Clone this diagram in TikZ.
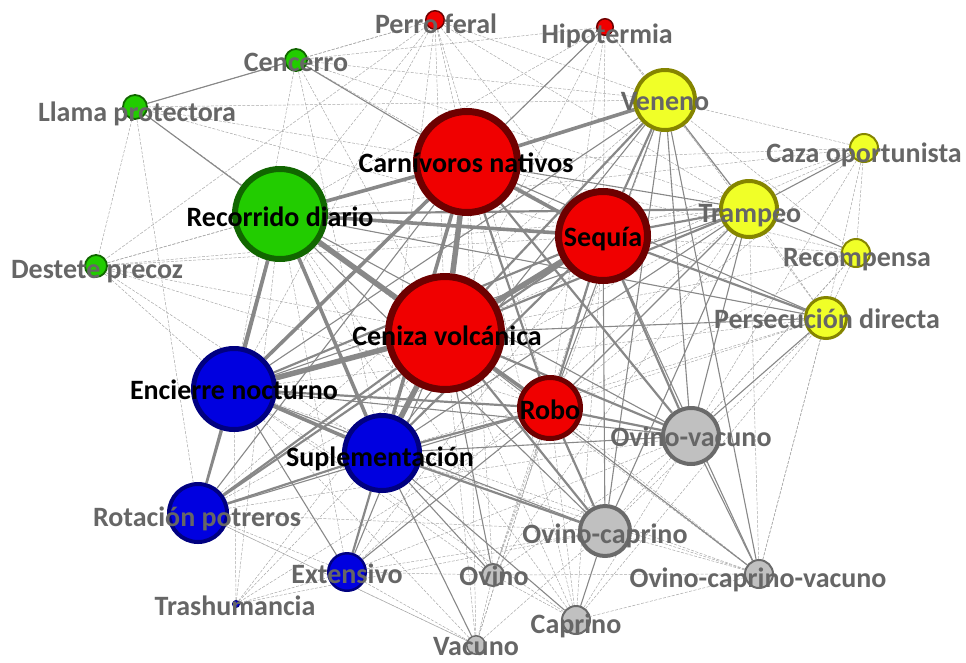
\documentclass[tikz,border=0pt]{standalone}
\usepackage{fontspec}
\setmainfont{Carlito}
\pgfdeclarelayer{bg}
\pgfsetlayers{bg,main}
\definecolor{rfill}{HTML}{F00000}
\definecolor{rline}{HTML}{6E0000}
\definecolor{gfill}{HTML}{22CC00}
\definecolor{gline}{HTML}{116600}
\definecolor{bfill}{HTML}{0000E0}
\definecolor{bline}{HTML}{000080}
\definecolor{yfill}{HTML}{F0FF28}
\definecolor{yline}{HTML}{858500}
\definecolor{kfill}{HTML}{C0C0C0}
\definecolor{kline}{HTML}{6A6A6A}
\definecolor{txtgray}{HTML}{666666}
\definecolor{edgec}{HTML}{888888}
\definecolor{faintc}{HTML}{A8A8A8}
\tikzset{
  vtx/.style={circle, inner sep=0pt, draw},
  rv/.style={vtx, fill=rfill, draw=rline},
  gv/.style={vtx, fill=gfill, draw=gline},
  bv/.style={vtx, fill=bfill, draw=bline},
  yv/.style={vtx, fill=yfill, draw=yline},
  kv/.style={vtx, fill=kfill, draw=kline},
  lab/.style={anchor=base, inner sep=0pt, font=\bfseries\fontsize{28}{28}\selectfont, text=txtgray},
  labk/.style={lab, text=black},
  e1/.style={draw=faintc, line width=0.5pt, dash pattern=on 3pt off 1.5pt},
  e2/.style={draw=edgec, line width=1.1pt},
  e3/.style={draw=edgec, line width=2.2pt},
  e4/.style={draw=edgec, line width=3.6pt},
  e5/.style={draw=edgec, line width=5.5pt},
}
\begin{document}
\begin{tikzpicture}[x=1pt, y=-1pt]
\useasboundingbox (0,0) rectangle (966,662);
% nodes  (minimum size = 2r - line width)
\node[rv, line width=1.5pt, minimum size=18.5pt] (PF) at (435,20) {};
\node[rv, line width=1.5pt, minimum size=16.5pt] (HI) at (605,27) {};
\node[gv, line width=1.8pt, minimum size=22pt] (CE) at (296,60) {};
\node[gv, line width=1.8pt, minimum size=24pt] (LL) at (135,107) {};
\node[yv, line width=4pt, minimum size=60pt] (VE) at (665,100) {};
\node[yv, line width=2pt, minimum size=28pt] (CO) at (864,148) {};
\node[rv, line width=7pt, minimum size=101pt] (CN) at (467,162) {};
\node[gv, line width=6pt, minimum size=90pt] (RD) at (280,214) {};
\node[rv, line width=7pt, minimum size=89pt] (SQ) at (603,236) {};
\node[yv, line width=4pt, minimum size=56pt] (TR) at (749,209) {};
\node[yv, line width=2pt, minimum size=28pt] (RC) at (856,253) {};
\node[gv, line width=1.8pt, minimum size=22pt] (DP) at (96,266) {};
\node[yv, line width=3pt, minimum size=41pt] (PD) at (826,318) {};
\node[rv, line width=7pt, minimum size=113pt] (CV) at (445,333) {};
\node[bv, line width=5pt, minimum size=81pt] (EN) at (234,389) {};
\node[rv, line width=5pt, minimum size=61pt] (RO) at (550,408) {};
\node[kv, line width=4pt, minimum size=56pt] (OV) at (691,436) {};
\node[bv, line width=5pt, minimum size=75pt] (SU) at (382,453) {};
\node[bv, line width=4pt, minimum size=58pt] (RP) at (198,513) {};
\node[kv, line width=4pt, minimum size=50pt] (OC) at (605,531) {};
\node[bv, line width=2.5pt, minimum size=37.5pt] (EX) at (347,572) {};
\node[kv, line width=2pt, minimum size=22pt] (OVI) at (493,575) {};
\node[kv, line width=2pt, minimum size=28pt] (OCV) at (759,574) {};
\node[bv, line width=1pt, minimum size=7pt] (TS) at (236,604) {};
\node[kv, line width=2pt, minimum size=28pt] (CA) at (576,620) {};
\node[kv, line width=1.5pt, minimum size=18.5pt] (VA) at (476,645) {};
% edges
\begin{pgfonlayer}{bg}
\foreach \a/\b in {PF/CE,PF/LL,PF/DP,PF/RD,PF/SQ,PF/VE,PF/TR,PF/EN,PF/SU,PF/RO,PF/CV,PF/CN,
  HI/CE,HI/RD,HI/CV,HI/VE,HI/TR,HI/EN,HI/RO,HI/SQ,
  CE/LL,CE/VE,CE/TR,CE/SQ,CE/EN,CE/SU,CE/CV,
  LL/CN,LL/DP,LL/SQ,LL/VE,LL/RP,LL/CV,
  DP/RD,DP/CN,DP/CV,DP/EN,DP/SQ,DP/RO,DP/TR,DP/SU,
  CO/VE,CO/SQ,CO/CN,CO/CV,CO/PD,CO/RD,CO/RC,CO/OV,CO/RO,
  RC/SQ,RC/CV,RC/CN,RC/PD,RC/OV,RC/OC,RC/VE,RC/RO,
  PD/TR,PD/VE,PD/RO,PD/OCV,PD/EN,PD/SU,PD/OC,
  TS/EN,TS/CV,TS/SU,TS/RD,TS/EX,TS/RO,TS/OC,
  EX/RP,EX/CN,EX/RD,EX/VA,EX/OC,EX/OV,EX/OVI,EX/SQ,EX/TR,
  OVI/CN,OVI/SQ,OVI/RD,OVI/EN,OVI/RO,OVI/OV,OVI/TR,OVI/VE,OVI/CA,OVI/VA,
  CA/CV,CA/RO,CA/OV,CA/EN,CA/RD,CA/SQ,CA/PD,CA/CN,
  VA/CV,VA/RO,VA/EN,VA/SQ,VA/CN,VA/OC,VA/RP,
  OCV/OC,OCV/RO,OCV/SU,OCV/TR,OCV/PD,OCV/CA,OCV/EN,OCV/RD,OCV/OVI,
  RP/VE,RP/TR,RP/SQ,RP/OV,RP/OC,RP/VA}
  \draw[e1] (\a) -- (\b);
\foreach \a/\b in {VE/OCV,VE/OC,TR/OC,PD/CN,PD/CV,PD/RD,TR/RO,VE/RO,VE/SU,VE/EN,
  TR/EN,TR/SU,OV/SU,OV/EN,OV/RD,RD/OC,EX/CV,EX/RO,RP/CN,RP/RO,CE/CN,LL/RD,
  HI/CN,CO/TR,RC/TR,OCV/OV,OCV/SQ,OCV/CV,CA/OC,CA/SU,VA/SU,OVI/SU,OVI/CV,
  TR/VE,TR/OV,PD/OV,OC/EN,OC/SQ,OV/VE,CN/TR,EN/EX,LL/CE}
  \draw[e2] (\a) -- (\b);
\foreach \a/\b in {RD/RO,SQ/EN,SQ/SU,VE/CV,VE/SQ,TR/SQ,TR/CV,RD/TR,CN/OV,SQ/OV,CV/OV,
  RO/OV,EN/RO,SU/RO,RP/EN,RP/CV,RP/SU,EX/SU,OC/CV,OC/SU,OC/RO,PD/SQ,CN/RO,SQ/RO,
  RD/RP,RP/SQ}
  \draw[e3] (\a) -- (\b);
\foreach \a/\b in {CN/RD,RD/EN,CV/RO,CN/VE,CN/SQ,RD/SQ,EN/SU,CN/EN,RD/SU,CN/SU}
  \draw[e4] (\a) -- (\b);
\foreach \a/\b in {CN/CV,RD/CV,CV/EN,CV/SQ,CV/SU}
  \draw[e5] (\a) -- (\b);
\end{pgfonlayer}
% labels
\node[lab] (tPF) at (436,33) {Perro feral};
\node[lab] (tHI) at (607,43) {Hipotermia};
\node[lab] (tCE) at (296,71) {Cencerro};
\node[lab] (tLL) at (137,121) {Llama protectora};
\node[lab] (tVE) at (665,110) {Veneno};
\node[lab] (tCO) at (864,162) {Caza oportunista};
\node[labk] (tCN) at (466,172) {Carnívoros nativos};
\node[labk] (tRD) at (280,226) {Recorrido diario};
\node[labk] (tSQ) at (603,246) {Sequía};
\node[lab] (tTR) at (750,222) {Trampeo};
\node[lab] (tRC) at (857,266) {Recompensa};
\node[lab] (tDP) at (97,278) {Destete precoz};
\node[lab] (tPD) at (827,328) {Persecución directa};
\node[labk] (tCV) at (447,345) {Ceniza volcánica};
\node[labk] (tEN) at (234,399) {Encierre nocturno};
\node[labk] (tRO) at (550,419) {Robo};
\node[lab] (tOV) at (691,446) {Ovino-vacuno};
\node[labk] (tSU) at (380,466) {Suplementación};
\node[lab] (tRP) at (197,526) {Rotación potreros};
\node[lab] (tOC) at (605,543) {Ovino-caprino};
\node[lab] (tEX) at (347,583) {Extensivo};
\node[lab] (tOVI) at (494,585) {Ovino};
\node[lab] (tOCV) at (758,587) {Ovino-caprino-vacuno};
\node[lab] (tTS) at (235,615) {Trashumancia};
\node[lab] (tCA) at (576,633) {Caprino};
\node[lab] (tVA) at (476,655) {Vacuno};
\end{tikzpicture}
\end{document}
